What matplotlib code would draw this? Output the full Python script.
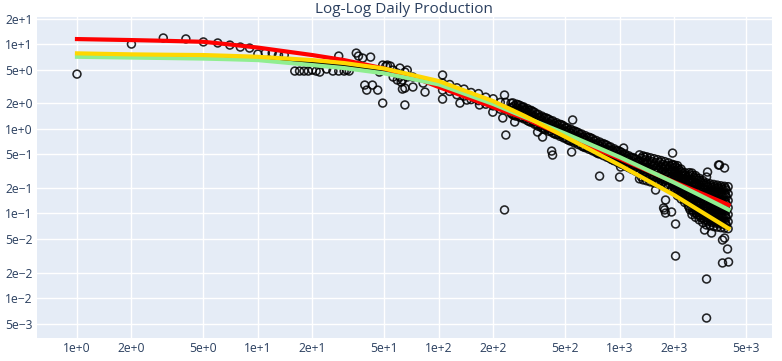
import numpy as np
import matplotlib.pyplot as plt
from matplotlib.ticker import FixedLocator, FixedFormatter, NullLocator

plt.rcParams['font.family'] = ['Open Sans', 'DejaVu Sans']

# scattered daily readings (day, rate)
days = [1, 2, 3, 4, 5, 6, 7, 8, 9, 10, 11, 12, 13, 14,
        16, 17, 18, 19, 20, 21, 22, 24, 26, 28, 30, 31, 32,
        28, 35, 36, 38, 42, 39, 40, 43, 46, 49, 65, 47, 51, 56, 61, 63, 67,
        49, 52, 61, 56, 59, 65, 72, 82, 84, 54, 59, 65, 67, 62, 72, 63,
        105, 105, 131, 143, 158, 168, 199, 231, 226, 235, 231, 263, 291, 299,
        352, 375, 421, 426, 543, 550, 775, 1000, 1013, 1052, 1374, 1581,
        1795, 1963, 1963, 1795, 1751, 1795, 1773, 1938, 2039, 2039,
        2949, 3224, 3025, 3025, 3707, 4002, 3951, 3707, 3804,
        3524, 3804, 3064, 3025, 3568]
rates = [4.42, 10.0, 11.8, 11.5, 10.6, 10.3, 9.73, 9.22, 8.97, 7.62, 7.83, 7.83, 7.42, 7.42,
         4.80, 4.80, 4.80, 4.80, 4.93, 4.80, 4.67, 5.07, 4.80, 4.80, 4.80, 4.93, 4.80,
         7.22, 7.83, 7.22, 6.83, 7.02, 3.28, 2.86, 3.28, 2.86, 2.01, 1.91, 4.67, 5.50, 4.93, 4.08, 2.94, 4.93,
         5.65, 5.65, 5.21, 4.08, 3.76, 3.02, 3.11, 3.46, 2.71, 5.50, 4.55, 4.67, 4.08, 3.56, 4.08, 3.76,
         4.31, 2.24, 2.01, 2.18, 2.30, 1.91, 1.57, 2.50, 1.34, 0.843, 0.110, 1.20, 1.80, 1.66,
         0.914, 0.798, 0.545, 0.489, 0.531, 1.27, 0.276, 0.269, 0.353, 0.592, 0.463, 0.189,
         0.363, 0.516, 0.373, 0.144, 0.116, 0.101, 0.110, 0.104, 0.075, 0.0314,
         0.0637, 0.0587, 0.0168, 0.00582, 0.0260, 0.0267, 0.0380, 0.0485, 0.0512,
         0.373, 0.344, 0.308, 0.269, 0.373]

# dense part of the record: several readings per day column
band_days = [105, 115, 126, 138, 151, 166, 182, 200, 219, 234,
             251, 263, 275, 288, 302, 316, 331, 347, 363, 380, 398, 417, 437, 457, 479,
             501, 525, 550, 575, 603, 631, 661, 692, 724, 759, 794, 832, 871, 912, 955,
             1000, 1047, 1096, 1148, 1202, 1259, 1318, 1380, 1445, 1514, 1585, 1660,
             1738, 1820, 1905, 1995, 2089, 2188, 2291, 2399, 2512, 2630, 2754, 2884,
             3020, 3162, 3311, 3467, 3631, 3802, 3981]
band_rates = [
    [3.46, 2.86], [3.33, 2.76], [3.05, 2.52], [2.94, 2.43], [2.68, 2.21],
    [2.60, 2.15], [2.36, 1.95], [2.26, 1.86], [2.05, 1.70], [2.05, 1.69],
    [2.00, 1.75, 1.52], [1.88, 1.64, 1.43], [1.92, 1.67, 1.46], [1.80, 1.57, 1.37],
    [1.69, 1.47, 1.32], [1.65, 1.44, 1.22], [1.60, 1.40, 1.22], [1.48, 1.26, 1.13],
    [1.37, 1.23, 1.07], [1.35, 1.14, 1.00], [1.32, 1.12, 1.01], [1.23, 1.10, 0.94],
    [1.15, 1.00, 0.87], [1.12, 0.98, 0.86], [1.11, 0.91, 0.84], [1.03, 0.92, 0.78],
    [0.96, 0.84, 0.73], [0.94, 0.82, 0.72], [0.92, 0.79, 0.70], [0.86, 0.73, 0.66],
    [0.80, 0.74, 0.61], [0.79, 0.69, 0.60], [0.78, 0.64, 0.59], [0.72, 0.65, 0.55],
    [0.67, 0.59, 0.51], [0.66, 0.58, 0.51], [0.65, 0.54, 0.50], [0.61, 0.55, 0.46],
    [0.56, 0.49, 0.43], [0.55, 0.48, 0.42], [0.54, 0.46, 0.41], [0.50, 0.43, 0.38],
    [0.47, 0.43, 0.36], [0.46, 0.40, 0.35], [0.45, 0.37, 0.34], [0.41, 0.37, 0.32],
    [0.45, 0.37, 0.33, 0.27], [0.43, 0.38, 0.31, 0.27], [0.42, 0.35, 0.31, 0.26],
    [0.41, 0.36, 0.29, 0.25], [0.40, 0.34, 0.30, 0.24], [0.40, 0.33, 0.28, 0.24],
    [0.38, 0.33, 0.27, 0.24], [0.37, 0.31, 0.27, 0.22], [0.36, 0.31, 0.26, 0.22],
    [0.34, 0.29, 0.25, 0.21],
    [0.367, 0.311, 0.265, 0.225, 0.191, 0.162],
    [0.334, 0.284, 0.241, 0.205, 0.174, 0.148],
    [0.304, 0.258, 0.219, 0.186, 0.158, 0.135],
    [0.277, 0.235, 0.200, 0.170, 0.144, 0.123],
    [0.30, 0.25, 0.21, 0.17, 0.14, 0.117, 0.097],
    [0.28, 0.23, 0.19, 0.16, 0.13, 0.109, 0.090],
    [0.26, 0.22, 0.18, 0.15, 0.123, 0.102, 0.084],
    [0.245, 0.20, 0.168, 0.139, 0.115, 0.095, 0.078],
    [0.23, 0.19, 0.157, 0.130, 0.107, 0.089, 0.073],
    [0.224, 0.185, 0.153, 0.127, 0.105, 0.087, 0.072],
    [0.22, 0.182, 0.151, 0.125, 0.103, 0.085, 0.070],
    [0.216, 0.179, 0.148, 0.122, 0.101, 0.084, 0.069],
    [0.212, 0.176, 0.145, 0.120, 0.099, 0.082, 0.068],
    [0.209, 0.173, 0.143, 0.118, 0.098, 0.081, 0.067],
    [0.207, 0.171, 0.142, 0.117, 0.097, 0.080, 0.066],
]

# the days in between, same dense stretch
band2_days = [257, 269, 282, 295, 309, 324, 339, 355, 372, 389, 407, 427, 447, 468, 490,
              513, 537, 562, 589, 617, 646, 676, 708, 741, 776, 813, 851, 891, 933, 977,
              1023, 1072, 1122, 1175, 1230, 1288, 1349, 1413, 1479, 1549, 1622, 1698,
              1778, 1862, 1950, 2042, 2138, 2239, 2344, 2455, 2570, 2692, 2818, 2951,
              3090, 3236, 3388, 3548, 3715, 3890]
band2_rates = [
    [2.02, 1.81, 1.63, 1.46], [1.95, 1.75, 1.57, 1.41], [1.88, 1.69, 1.51, 1.36],
    [1.81, 1.63, 1.46, 1.31], [1.73, 1.56, 1.40, 1.25], [1.65, 1.48, 1.32, 1.19],
    [1.56, 1.40, 1.26, 1.13], [1.48, 1.33, 1.19, 1.07], [1.41, 1.27, 1.14, 1.02],
    [1.35, 1.21, 1.09, 0.974], [1.29, 1.16, 1.04, 0.932], [1.24, 1.11, 0.994, 0.892],
    [1.18, 1.06, 0.951, 0.853], [1.13, 1.01, 0.909, 0.815], [1.08, 0.969, 0.869, 0.780],
    [1.03, 0.927, 0.832, 0.746], [0.988, 0.886, 0.795, 0.713], [0.944, 0.847, 0.760, 0.681],
    [0.904, 0.811, 0.727, 0.652], [0.866, 0.777, 0.697, 0.625], [0.829, 0.743, 0.667, 0.598],
    [0.795, 0.713, 0.639, 0.573], [0.761, 0.682, 0.612, 0.549], [0.728, 0.652, 0.585, 0.525],
    [0.697, 0.625, 0.561, 0.503], [0.668, 0.599, 0.537, 0.482], [0.639, 0.573, 0.514, 0.461],
    [0.610, 0.547, 0.491, 0.440], [0.580, 0.521, 0.467, 0.419], [0.553, 0.496, 0.445, 0.399],
    [0.527, 0.473, 0.424, 0.381], [0.504, 0.452, 0.405, 0.364], [0.480, 0.431, 0.386, 0.347],
    [0.458, 0.411, 0.368, 0.330], [0.437, 0.392, 0.351, 0.315],
    [0.492, 0.418, 0.355, 0.302, 0.256], [0.478, 0.406, 0.345, 0.293, 0.249],
    [0.466, 0.396, 0.336, 0.285, 0.243], [0.454, 0.386, 0.328, 0.278, 0.236],
    [0.443, 0.376, 0.320, 0.271, 0.231], [0.432, 0.367, 0.312, 0.265, 0.225],
    [0.421, 0.358, 0.304, 0.258, 0.219], [0.409, 0.347, 0.295, 0.251, 0.213],
    [0.396, 0.337, 0.286, 0.243, 0.206], [0.380, 0.323, 0.275, 0.233, 0.198],
    [0.354, 0.301, 0.256, 0.217, 0.184], [0.323, 0.274, 0.233, 0.198, 0.168],
    [0.294, 0.250, 0.212, 0.180, 0.153], [0.268, 0.227, 0.193, 0.164, 0.139],
    [0.286, 0.236, 0.195, 0.161, 0.133, 0.110], [0.266, 0.220, 0.182, 0.150, 0.124, 0.103],
    [0.248, 0.205, 0.169, 0.140, 0.116, 0.096], [0.231, 0.191, 0.158, 0.130, 0.108, 0.089],
    [0.215, 0.178, 0.147, 0.122, 0.101, 0.083], [0.206, 0.170, 0.141, 0.116, 0.096, 0.080],
    [0.202, 0.167, 0.138, 0.114, 0.0945, 0.078], [0.199, 0.164, 0.136, 0.112, 0.0928, 0.0768],
    [0.195, 0.161, 0.133, 0.110, 0.0910, 0.0753], [0.192, 0.159, 0.131, 0.108, 0.0896, 0.0741],
    [0.189, 0.157, 0.129, 0.107, 0.0885, 0.0731],
]

# last years of the record, where the scatter widens
band3_days = [2018, 2113, 2213, 2317, 2427, 2541, 2661, 2786, 2917, 3055, 3199,
              3350, 3508, 3673, 3846]
band3_rates = [
    [0.372, 0.316, 0.269, 0.228, 0.194], [0.339, 0.288, 0.245, 0.208, 0.177],
    [0.309, 0.262, 0.223, 0.189, 0.161], [0.281, 0.239, 0.203, 0.172, 0.146],
    [0.303, 0.251, 0.207, 0.171, 0.142, 0.117], [0.282, 0.233, 0.192, 0.159, 0.132, 0.109],
    [0.263, 0.217, 0.180, 0.149, 0.123, 0.101], [0.245, 0.202, 0.167, 0.138, 0.114, 0.0944],
    [0.228, 0.189, 0.156, 0.129, 0.107, 0.0880], [0.216, 0.178, 0.147, 0.122, 0.101, 0.0831],
    [0.212, 0.175, 0.145, 0.120, 0.0988, 0.0815], [0.208, 0.172, 0.142, 0.117, 0.0971, 0.0801],
    [0.204, 0.169, 0.139, 0.115, 0.0952, 0.0785], [0.201, 0.166, 0.137, 0.113, 0.0937, 0.0773],
    [0.198, 0.164, 0.135, 0.112, 0.0924, 0.0762],
]

# decline curve fits
fit_days = [1, 2, 3, 5, 7, 10, 20, 30, 50, 70, 100, 200, 300, 500, 1000, 2000, 3000, 4000]
fit_black = [7.4, 7.25, 7.15, 7.05, 6.9, 6.75, 6.0, 5.55, 4.8, 4.1, 3.45, 1.9, 1.33, 0.85, 0.44, 0.225, 0.15, 0.108]
fit_red = [11.46, 11.15, 10.94, 10.64, 9.89, 9.09, 7.42, 6.47, 5.14, 4.19, 3.11, 1.80, 1.32, 0.820, 0.445, 0.235, 0.164, 0.126]
fit_green = [7.08, 6.93, 6.85, 6.74, 6.62, 6.47, 5.65, 5.21, 4.51, 3.91, 3.34, 1.96, 1.37, 0.878, 0.463, 0.232, 0.151, 0.111]
fit_yellow = [7.77, 7.56, 7.49, 7.42, 7.26, 7.08, 6.47, 5.97, 5.14, 4.36, 3.66, 2.12, 1.41, 0.804, 0.373, 0.165, 0.097, 0.0665]

x_ticks = [1, 2, 5, 10, 20, 50, 100, 200, 500, 1000, 2000, 5000]
x_labels = ['1e+0', '2e+0', '5e+0', '1e+1', '2e+1', '5e+1', '1e+2', '2e+2', '5e+2', '1e+3', '2e+3', '5e+3']
y_ticks = [0.005, 0.01, 0.02, 0.05, 0.1, 0.2, 0.5, 1, 2, 5, 10, 20]
y_labels = ['5e\u22123', '1e\u22122', '2e\u22122', '5e\u22122', '1e\u22121', '2e\u22121', '5e\u22121',
            '1e+0', '2e+0', '5e+0', '1e+1', '2e+1']

fig = plt.figure(figsize=(7.82, 3.61), dpi=100)
ax = fig.add_axes([0.0473, 0.0637, 0.9393, 0.889])
ax.set_facecolor('#E5ECF6')

bx = []
by = []
for d, rs in zip(band_days + band2_days + band3_days,
                 band_rates + band2_rates + band3_rates):
    bx += [d] * len(rs)
    by += rs

ax.scatter(days + bx, rates + by, s=32, facecolors='none', edgecolors='black',
           linewidths=1.15, alpha=0.85, zorder=2)

ax.plot(fit_days, fit_black, color='black', lw=2, zorder=3)
ax.plot(fit_days, fit_red, color='#FF0000', lw=3, zorder=4)
ax.plot(fit_days, fit_green, color='#90EE90', lw=3, zorder=5)
ax.plot(fit_days, fit_yellow, color='#FFD700', lw=3, zorder=6)

ax.set_xscale('log')
ax.set_yscale('log')
ax.set_xlim(0.601, 6917)
ax.set_ylim(0.00338, 20.84)

ax.xaxis.set_major_locator(FixedLocator(x_ticks))
ax.xaxis.set_major_formatter(FixedFormatter(x_labels))
ax.yaxis.set_major_locator(FixedLocator(y_ticks))
ax.yaxis.set_major_formatter(FixedFormatter(y_labels))
ax.xaxis.set_minor_locator(NullLocator())
ax.yaxis.set_minor_locator(NullLocator())
ax.tick_params(which='both', length=0, labelsize=8.7, colors='#2a3f5f', pad=3)

ax.grid(True, color='white', linewidth=1.0)
ax.set_axisbelow(True)
for s in ax.spines.values():
    s.set_visible(False)

ax.set_title('Log-Log Daily Production', fontsize=11, color='#2a3f5f', pad=3)

fig.savefig('out.png', dpi=100)
